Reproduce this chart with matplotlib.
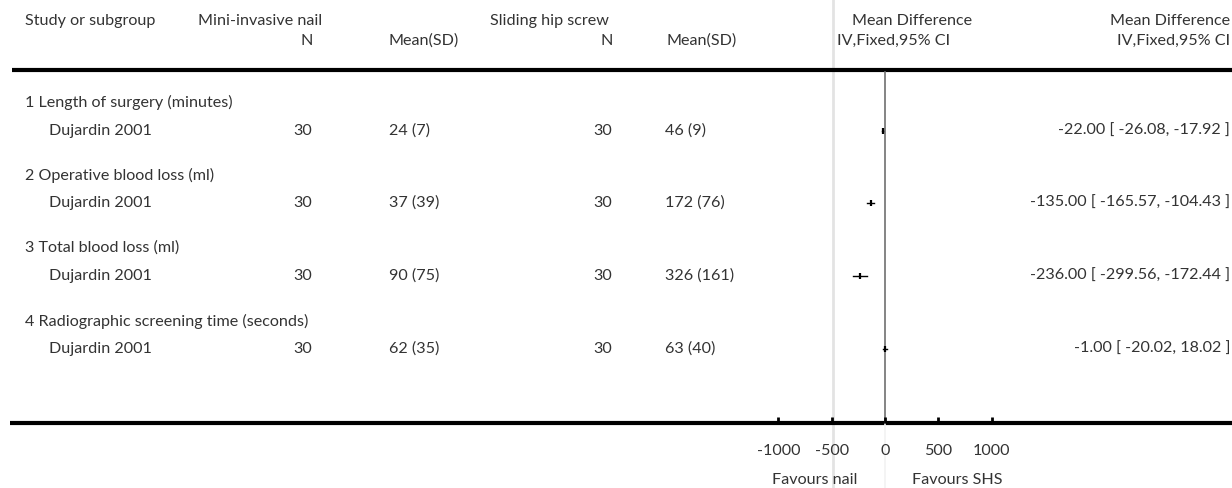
import matplotlib
matplotlib.use("Agg")
import matplotlib.pyplot as plt

plt.rcParams['font.family'] = ['Lato', 'DejaVu Sans']

# ---------------- data ----------------
outcomes = ["1 Length of surgery (minutes)",
            "2 Operative blood loss (ml)",
            "3 Total blood loss (ml)",
            "4 Radiographic screening time (seconds)"]
studies = ["Dujardin 2001", "Dujardin 2001", "Dujardin 2001", "Dujardin 2001"]
nail_n = [30, 30, 30, 30]
nail_mean = [24, 37, 90, 62]
nail_sd = [7, 39, 75, 35]
shs_n = [30, 30, 30, 30]
shs_mean = [46, 172, 326, 63]
shs_sd = [9, 76, 161, 40]
md = [-22.00, -135.00, -236.00, -1.00]
ci_lo = [-26.08, -165.57, -299.56, -20.02]
ci_hi = [-17.92, -104.43, -172.44, 18.02]
ticks = [-1000, -500, 0, 500, 1000]
tick_labels = ["-1000", "-500", "0", "500", "1000"]

# ---------------- layout ----------------
W, H = 1232, 488
fig = plt.figure(figsize=(W / 100, H / 100), dpi=100)
lay = fig.add_axes([0, 0, 1, 1])
lay.set_xlim(0, W)
lay.set_ylim(H, 0)
lay.axis('off')

ZERO_PX = 885.0
PX_PER_UNIT = 0.10665
ax = fig.add_axes([0, 0, 1, 1])
ax.set_xlim(-ZERO_PX / PX_PER_UNIT, (W - ZERO_PX) / PX_PER_UNIT)
ax.set_ylim(H, 0)
ax.axis('off')
ax.patch.set_alpha(0)

TXT = '#333333'
FS = 11.6


def T(x, y, s, ha='left', fs=FS):
    lay.text(x, y, s, ha=ha, va='center', fontsize=fs, color=TXT)


# column separator (light)
lay.plot([833, 833], [0, H], color='#e3e3e3', lw=2, zorder=0)

# headers
T(25, 21, "Study or subgroup")
T(198, 21, "Mini-invasive nail")
T(490, 21, "Sliding hip screw")
T(912, 21, "Mean Difference", ha='center')
T(1230, 21, "Mean Difference", ha='right')
T(313, 41, "N", ha='right')
T(389, 41, "Mean(SD)")
T(613, 41, "N", ha='right')
T(666, 41, "Mean(SD)")
T(837, 41, "IV,Fixed,95% CI")
T(1230, 41, "IV,Fixed,95% CI", ha='right')

lay.plot([12, W], [70, 70], color='black', lw=3, solid_capstyle='butt')

# rows
head_y = [102, 175, 248, 321]
row_y = [131, 203, 276, 349]
for i in range(len(outcomes)):
    T(25, head_y[i], outcomes[i])
    T(49, row_y[i], studies[i])
    T(312, row_y[i], str(nail_n[i]), ha='right')
    T(389, row_y[i], f"{nail_mean[i]} ({nail_sd[i]})")
    T(612, row_y[i], str(shs_n[i]), ha='right')
    T(665, row_y[i], f"{shs_mean[i]} ({shs_sd[i]})")
    T(1230, row_y[i], f"{md[i]:.2f} [ {ci_lo[i]:.2f}, {ci_hi[i]:.2f} ]", ha='right')
    # forest marks
    ax.plot([ci_lo[i], ci_hi[i]], [row_y[i], row_y[i]], color='black', lw=1, zorder=3)
    ax.plot([md[i]], [row_y[i]], marker='|', markersize=5, mew=1.6, color='black', zorder=4)

# zero line
AX_Y = 423
ax.plot([0, 0], [72, AX_Y], color='#707070', lw=1.2, zorder=2)
ax.plot([0, 0], [AX_Y, H], color='#f2f2f2', lw=1.2, zorder=0)

# bottom axis
lay.plot([10, W], [AX_Y, AX_Y], color='black', lw=3, solid_capstyle='butt', zorder=5)
for t, lab in zip(ticks, tick_labels):
    ax.plot([t, t], [AX_Y, AX_Y - 6], color='black', lw=2, solid_capstyle='butt', zorder=5)
    ax.text(t, 451, lab, ha='center', va='center', fontsize=FS, color=TXT)

ax.text(-28 / PX_PER_UNIT, 480, "Favours nail", ha='right', va='center', fontsize=FS, color=TXT)
ax.text(27 / PX_PER_UNIT, 480, "Favours SHS", ha='left', va='center', fontsize=FS, color=TXT)

fig.savefig("out.png", dpi=100)
